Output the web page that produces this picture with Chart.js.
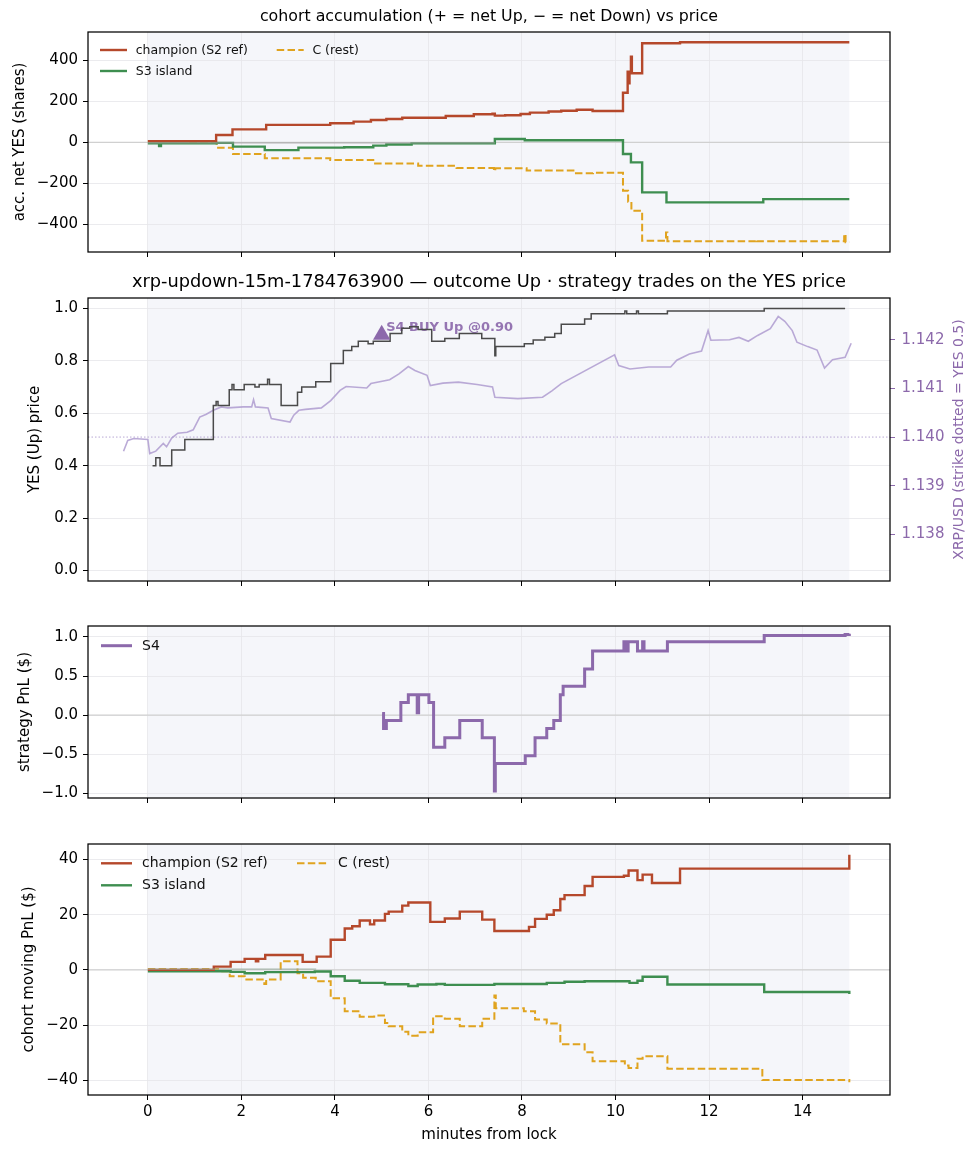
<!DOCTYPE html>
<html>
<head>
<meta charset="utf-8">
<title>xrp-updown cohort chart</title>
<script src="https://cdn.jsdelivr.net/npm/chart.js@4.4.1/dist/chart.umd.min.js"></script>
<style>
  html, body { margin: 0; padding: 0; background: #fff; }
  #wrap { position: relative; width: 978px; height: 1156px; }
  #wrap canvas { position: absolute; left: 0; top: 0; }
</style>
</head>
<body>
<div id="wrap">
  <canvas id="acc" width="978" height="1156"></canvas>
  <canvas id="price" width="978" height="1156"></canvas>
  <canvas id="s4" width="978" height="1156"></canvas>
  <canvas id="cohort" width="978" height="1156"></canvas>
</div>
<script>
// ---- data ----
const lockSpan = [0, 15];
const xTicks = [0, 2, 4, 6, 8, 10, 12, 14];

// panel 1: accumulated net YES shares
const accTicks = [-400, -200, 0, 200, 400];
const champAccT = [0, 1.46, 1.81, 2.53, 3.9, 4.4, 4.77, 5.1, 5.44, 6.37, 6.97, 7.37, 7.42, 7.64, 7.97, 8.17, 8.57, 8.84, 9.17, 9.51, 10.16, 10.26, 10.28, 10.30, 10.33, 10.35, 10.57, 11.38, 15.0];
const champAccV = [6, 36, 63, 85, 93, 101, 109, 114, 120, 128, 137, 140, 130, 132, 138, 145, 150, 154, 159, 153, 242, 344, 288, 344, 418, 337, 483, 488, 488];
const s3AccT = [0, 0.24, 0.28, 1.47, 1.82, 2.5, 3.22, 4.2, 4.82, 5.1, 5.64, 7.42, 8.06, 10.16, 10.33, 10.57, 11.09, 13.16, 15.0];
const s3AccV = [-5, -18, -5, -3, -21, -38, -26, -24, -16, -11, -5, 16, 10, -57, -98, -244, -293, -277, -277];
const cAccT = [0, 0.83, 1.47, 1.82, 2.5, 3.9, 4.82, 5.78, 6.6, 7.4, 7.43, 8.1, 9.1, 9.52, 10.16, 10.27, 10.34, 10.57, 11.08, 11.11, 13.0, 13.03, 14.89, 14.92, 15.0];
const cAccV = [5, -3, -26, -57, -78, -86, -103, -114, -125, -140, -127, -138, -151, -148, -236, -290, -334, -480, -440, -483, -476, -483, -448, -487, -487];
const otherAccT = [0, 7.42];
const otherAccV = [-3, -3];

// panel 2: YES price and XRP/USD
const yesTicks = [0, 0.2, 0.4, 0.6, 0.8, 1.0];
const xrpTicks = [1.138, 1.139, 1.140, 1.141, 1.142];
const strike = 1.140;
const priceT = [0.10, 0.17, 0.26, 0.51, 0.79, 1.40, 1.46, 1.50, 1.74, 1.80, 1.84, 2.06, 2.29, 2.38, 2.56, 2.60, 2.85, 3.20, 3.29, 3.59, 3.91, 4.18, 4.36, 4.50, 4.71, 4.82, 5.18, 5.43, 5.60, 5.78, 6.07, 6.35, 6.66, 7.14, 7.42, 7.44, 8.05, 8.24, 8.49, 8.70, 8.84, 9.34, 9.48, 10.17, 10.20, 10.24, 10.45, 10.49, 11.11, 13.18, 14.91];
const priceV = [0.40, 0.43, 0.40, 0.46, 0.50, 0.63, 0.645, 0.63, 0.69, 0.71, 0.69, 0.71, 0.70, 0.71, 0.73, 0.71, 0.63, 0.68, 0.70, 0.72, 0.79, 0.84, 0.855, 0.875, 0.865, 0.875, 0.905, 0.925, 0.93, 0.92, 0.875, 0.885, 0.905, 0.885, 0.82, 0.855, 0.865, 0.88, 0.89, 0.905, 0.94, 0.96, 0.98, 0.98, 0.99, 0.98, 0.99, 0.98, 0.99, 1.0, 1.0];
const xrpT = [-0.52, -0.43, -0.3, 0.0, 0.04, 0.17, 0.33, 0.40, 0.51, 0.64, 0.84, 0.97, 1.11, 1.25, 1.40, 1.57, 1.71, 2.04, 2.22, 2.26, 2.30, 2.57, 2.64, 3.04, 3.12, 3.23, 3.37, 3.71, 3.91, 4.11, 4.24, 4.68, 4.77, 5.17, 5.37, 5.57, 5.71, 5.97, 6.04, 6.31, 6.64, 7.04, 7.37, 7.42, 7.91, 8.44, 8.64, 8.84, 9.98, 10.07, 10.31, 10.71, 11.18, 11.31, 11.58, 11.84, 11.98, 12.04, 12.44, 12.64, 12.84, 13.04, 13.31, 13.48, 13.62, 13.78, 13.88, 14.11, 14.31, 14.47, 14.64, 14.91, 15.04];
const xrpV = [1.13971, 1.13993, 1.13997, 1.13995, 1.13966, 1.13971, 1.13987, 1.13980, 1.13998, 1.14008, 1.14010, 1.14015, 1.14041, 1.14047, 1.14055, 1.14062, 1.14060, 1.14062, 1.14062, 1.14077, 1.14062, 1.14060, 1.14038, 1.14031, 1.14045, 1.14055, 1.14057, 1.14060, 1.14075, 1.14096, 1.14104, 1.14101, 1.14110, 1.14118, 1.14130, 1.14145, 1.14137, 1.14127, 1.14106, 1.14111, 1.14113, 1.14108, 1.14103, 1.14082, 1.14079, 1.14082, 1.14095, 1.14110, 1.14169, 1.14147, 1.14140, 1.14144, 1.14144, 1.14158, 1.14171, 1.14177, 1.14219, 1.14199, 1.14200, 1.14205, 1.14197, 1.14209, 1.14223, 1.14248, 1.14238, 1.14219, 1.14195, 1.14186, 1.14179, 1.14142, 1.14159, 1.14164, 1.14193];
const buyT = [5.0];
const buyV = [0.90];
const buyNote = 'S4 BUY Up @0.90';

// panel 3: strategy PnL
const pnlTicks = [-1.0, -0.5, 0, 0.5, 1.0];
const s4T = [5.01, 5.04, 5.10, 5.41, 5.57, 5.76, 5.79, 6.01, 6.11, 6.35, 6.67, 7.15, 7.41, 7.43, 8.07, 8.28, 8.53, 8.68, 8.82, 8.88, 9.34, 9.51, 10.18, 10.21, 10.27, 10.47, 10.58, 10.61, 11.11, 13.18, 14.91, 15.0];
const s4V = [0.02, -0.17, -0.07, 0.16, 0.26, 0.03, 0.26, 0.16, -0.41, -0.29, -0.07, -0.29, -0.97, -0.62, -0.52, -0.29, -0.17, -0.07, 0.26, 0.37, 0.59, 0.82, 0.94, 0.82, 0.94, 0.82, 0.94, 0.82, 0.94, 1.02, 1.03, 1.04];

// panel 4: cohort moving PnL
const cohortTicks = [-40, -20, 0, 20, 40];
const champPnlT = [0, 1.41, 1.77, 2.07, 2.31, 2.36, 2.51, 3.31, 3.61, 3.91, 4.21, 4.37, 4.53, 4.75, 4.84, 5.07, 5.15, 5.44, 5.57, 6.04, 6.35, 6.67, 7.15, 7.41, 8.15, 8.28, 8.53, 8.68, 8.82, 8.91, 9.34, 9.51, 10.18, 10.28, 10.47, 10.58, 10.78, 11.38, 15.0];
const champPnlV = [0, 1.2, 2.9, 4.0, 3.1, 4.0, 5.4, 2.9, 4.8, 10.9, 15.0, 15.8, 17.9, 16.5, 17.9, 20.3, 21.1, 23.3, 24.4, 17.4, 18.6, 21.1, 18.2, 14.1, 15.6, 18.5, 20.0, 21.6, 25.7, 27.1, 30.4, 33.7, 34.1, 36.0, 32.5, 34.5, 31.5, 36.7, 41.7];
const s3PnlT = [0, 1.77, 2.07, 2.51, 3.57, 3.91, 4.21, 4.53, 5.07, 5.57, 5.77, 6.17, 6.35, 7.41, 8.53, 8.91, 9.34, 10.3, 10.47, 10.58, 11.11, 13.18, 14.98, 15.0];
const s3PnlV = [-0.5, -0.7, -1.2, -0.8, -0.6, -2.3, -3.9, -4.7, -5.2, -5.8, -5.3, -5.1, -5.4, -5.1, -4.7, -4.3, -4.1, -4.7, -3.9, -2.5, -5.3, -8.0, -8.0, -8.7];
const cPnlT = [0, 1.5, 1.75, 2.07, 2.49, 2.53, 2.84, 3.2, 3.32, 3.59, 3.91, 4.21, 4.53, 4.84, 5.07, 5.15, 5.44, 5.57, 5.77, 6.1, 6.35, 6.67, 7.15, 7.41, 7.44, 8.04, 8.28, 8.53, 8.82, 9.34, 9.51, 10.2, 10.28, 10.47, 10.58, 11.11, 13.14, 14.98, 15.0];
const cPnlV = [0.3, -0.5, -2.3, -3.5, -5.1, -3.5, 3.1, -1.2, -2.8, -4.1, -10.3, -15.0, -17.0, -16.5, -19.2, -20.4, -22.4, -23.8, -22.6, -16.8, -17.7, -20.4, -17.7, -9.3, -13.9, -15.0, -18.0, -19.4, -26.9, -29.8, -33.1, -34.6, -35.5, -32.2, -31.3, -35.8, -39.9, -39.9, -40.7];
const otherPnlT = [0, 3.6];
const otherPnlV = [0.3, 0.3];

// ---- styling / layout ----
Chart.defaults.font.family = '"DejaVu Sans", sans-serif';
Chart.defaults.color = '#000';
Chart.defaults.animation = false;

const H = 1156;
const X_MIN = -1.28, X_MAX = 15.87;
const GRID = '#e6e6ea';
const CHAMP = '#b5482b', S3 = '#3e8e50', CREST = '#e0a31e', PURPLE = '#8c69ab';
const minus = s => s.replace('-', '\u2212');
const pts = (t, v) => t.map((x, i) => ({ x, y: v[i] }));

const decor = {
  id: 'decor',
  beforeDraw(chart) {
    const { ctx, chartArea: a, scales: { x } } = chart;
    const x0 = x.getPixelForValue(lockSpan[0]), x1 = x.getPixelForValue(lockSpan[1]);
    ctx.save();
    ctx.fillStyle = '#f5f6fa';
    ctx.fillRect(x0, a.top, x1 - x0, a.bottom - a.top);
    ctx.restore();
  },
  beforeDatasetsDraw(chart, args, o) {
    const { ctx, chartArea: a } = chart;
    ctx.save();
    if (o.zero) {
      const y = chart.scales.y.getPixelForValue(0);
      ctx.strokeStyle = '#d0d0d0'; ctx.lineWidth = 1.2;
      ctx.beginPath(); ctx.moveTo(a.left, y); ctx.lineTo(a.right, y); ctx.stroke();
    }
    if (o.strike) {
      const y = chart.scales.y1.getPixelForValue(strike);
      ctx.strokeStyle = '#b9a8d4'; ctx.lineWidth = 1; ctx.setLineDash([1.5, 2]);
      ctx.beginPath(); ctx.moveTo(a.left, y); ctx.lineTo(a.right, y); ctx.stroke();
      ctx.setLineDash([]);
    }
    if (o.note) {
      const px = chart.scales.x.getPixelForValue(buyT[0]);
      const py = chart.scales.y.getPixelForValue(buyV[0]);
      ctx.font = 'bold 13px "DejaVu Sans", sans-serif';
      ctx.fillStyle = 'rgba(140,105,171,0.92)';
      ctx.textBaseline = 'alphabetic';
      ctx.fillText(buyNote, px + 4.5, py - 4);
    }
    ctx.restore();
  },
  afterDatasetsDraw(chart, args, o) {
    const { ctx, chartArea: a } = chart;
    ctx.save();
    ctx.strokeStyle = '#000'; ctx.lineWidth = 1.25;
    ctx.strokeRect(a.left, a.top, a.right - a.left, a.bottom - a.top);
    if (o.title) {
      ctx.font = o.titleSize + 'px "DejaVu Sans", sans-serif';
      ctx.fillStyle = '#000'; ctx.textAlign = 'center'; ctx.textBaseline = 'middle';
      ctx.fillText(o.title, (a.left + a.right) / 2, a.top - o.titleDy);
    }
    if (o.rightLabel) {
      ctx.save();
      ctx.translate(959, (a.top + a.bottom) / 2);
      ctx.rotate(-Math.PI / 2);
      ctx.font = '14px "DejaVu Sans", sans-serif';
      ctx.fillStyle = PURPLE; ctx.textAlign = 'center'; ctx.textBaseline = 'middle';
      ctx.fillText(o.rightLabel, 0, 0);
      ctx.restore();
    }
    const lg = o.legend;
    if (lg) {
      ctx.font = lg.size + 'px "DejaVu Sans", sans-serif';
      ctx.textAlign = 'left'; ctx.textBaseline = 'middle';
      const items = chart.data.datasets.filter(d => d.label && d.inLegend !== false);
      items.forEach((ds, i) => {
        const col = Math.floor(i / lg.rows), row = i % lg.rows;
        const x = a.left + lg.x + col * lg.colW;
        const y = a.top + lg.y + row * lg.rowH;
        ctx.strokeStyle = ds.borderColor; ctx.lineWidth = ds.borderWidth;
        ctx.setLineDash(ds.borderDash || []);
        ctx.beginPath(); ctx.moveTo(x, y); ctx.lineTo(x + lg.handle, y); ctx.stroke();
        ctx.setLineDash([]);
        ctx.fillStyle = '#111';
        ctx.fillText(ds.label, x + lg.handle + lg.gap, y + 0.5);
      });
    }
    ctx.restore();
  }
};

function xScale(showLabels) {
  return {
    type: 'linear', min: X_MIN, max: X_MAX,
    afterBuildTicks: s => { s.ticks = xTicks.map(v => ({ value: v })); },
    afterFit: s => { s.height = showLabels ? 61 : 8; },
    grid: { color: GRID, lineWidth: 0.8, tickColor: '#000', tickLength: 5, tickWidth: 1 },
    border: { display: false },
    ticks: { padding: 3, font: { size: 15 }, maxRotation: 0, callback: v => showLabels ? minus(String(v)) : '' },
    title: showLabels
      ? { display: true, text: 'minutes from lock', font: { size: 15 }, padding: { top: 0, bottom: 12 } }
      : { display: false }
  };
}

function yScale(min, max, ticks, fmt, label, pad) {
  return {
    type: 'linear', position: 'left', min, max,
    afterBuildTicks: s => { s.ticks = ticks.map(v => ({ value: v })); },
    afterFit: s => { s.width = 88; },
    grid: { color: GRID, lineWidth: 0.8, tickColor: '#000', tickLength: 5, tickWidth: 1 },
    border: { display: false },
    ticks: { padding: 5, font: { size: 15 }, callback: fmt },
    title: { display: true, text: label, font: { size: 15 }, padding: { top: pad, bottom: 0 } }
  };
}

function stepLine(label, t, v, color, width, extra) {
  return Object.assign({
    label, data: pts(t, v), borderColor: color, borderWidth: width,
    stepped: true, pointRadius: 0, fill: false, yAxisID: 'y'
  }, extra || {});
}

function layout(top, bottom, xH, right) {
  return { padding: { left: 0, right, top, bottom: H - bottom - xH } };
}

const common = {
  responsive: false,
  devicePixelRatio: 1,
  events: [],
  parsing: true
};

// panel 1
new Chart(document.getElementById('acc'), {
  type: 'line',
  data: {
    datasets: [
      stepLine('', otherAccT, otherAccV, '#9e9e9e', 0.9, { inLegend: false }),
      stepLine('champion (S2 ref)', champAccT, champAccV, CHAMP, 2.4),
      stepLine('S3 island', s3AccT, s3AccV, S3, 2.4),
      stepLine('C (rest)', cAccT, cAccV, CREST, 2.0, { borderDash: [7.5, 3.3] })
    ]
  },
  options: Object.assign({}, common, {
    layout: layout(32, 252, 8, 88),
    scales: {
      x: xScale(false),
      y: yScale(-535, 538, accTicks, v => minus(String(v)), 'acc. net YES (shares)', 11)
    },
    plugins: {
      legend: { display: false }, tooltip: { enabled: false },
      decor: {
        zero: true, title: 'cohort accumulation (+ = net Up, \u2212 = net Down) vs price', titleSize: 15.8, titleDy: 15,
        legend: { x: 12, y: 18, rows: 2, colW: 176.7, rowH: 21, handle: 27, gap: 8.7, size: 12.5 }
      }
    }
  }),
  plugins: [decor]
});

// panel 2
new Chart(document.getElementById('price'), {
  type: 'line',
  data: {
    datasets: [
      { type: 'scatter', label: 'S4 BUY', inLegend: false, data: pts(buyT, buyV), yAxisID: 'y',
        pointStyle: 'triangle', pointRadius: 10, backgroundColor: PURPLE, borderColor: PURPLE, borderWidth: 0 },
      stepLine('YES price', priceT, priceV, '#4a4a4a', 1.5),
      { label: 'XRP/USD', data: pts(xrpT, xrpV), yAxisID: 'y1', borderColor: 'rgba(170,150,205,0.8)',
        borderWidth: 1.6, pointRadius: 0, tension: 0, fill: false }
    ]
  },
  options: Object.assign({}, common, {
    layout: layout(298, 581, 8, 0),
    scales: {
      x: xScale(false),
      y: yScale(-0.04, 1.04, yesTicks, v => v.toFixed(1), 'YES (Up) price', 26.5),
      y1: {
        type: 'linear', position: 'right', min: 1.13704, max: 1.14286,
        afterBuildTicks: s => { s.ticks = xrpTicks.map(v => ({ value: v })); },
        afterFit: s => { s.width = 88; },
        grid: { drawOnChartArea: false, tickColor: PURPLE, tickLength: 5, tickWidth: 1 },
        border: { display: false },
        ticks: { padding: 6.5, color: PURPLE, font: { size: 15 }, callback: v => v.toFixed(3) },
        title: { display: false }
      }
    },
    plugins: {
      legend: { display: false }, tooltip: { enabled: false },
      decor: {
        strike: true, note: true,
        title: 'xrp-updown-15m-1784763900 \u2014 outcome Up \u00b7 strategy trades on the YES price', titleSize: 17.8, titleDy: 15.5,
        rightLabel: 'XRP/USD (strike dotted = YES 0.5)'
      }
    }
  }),
  plugins: [decor]
});

// panel 3
new Chart(document.getElementById('s4'), {
  type: 'line',
  data: {
    datasets: [
      stepLine('S4', s4T, s4V, PURPLE, 3)
    ]
  },
  options: Object.assign({}, common, {
    layout: layout(626, 798, 8, 88),
    scales: {
      x: xScale(false),
      y: yScale(-1.06, 1.14, pnlTicks, v => minus(v.toFixed(1)), 'strategy PnL ($)', 16)
    },
    plugins: {
      legend: { display: false }, tooltip: { enabled: false },
      decor: {
        zero: true,
        legend: { x: 13, y: 19.7, rows: 1, colW: 196, rowH: 22, handle: 31, gap: 10, size: 14 }
      }
    }
  }),
  plugins: [decor]
});

// panel 4
new Chart(document.getElementById('cohort'), {
  type: 'line',
  data: {
    datasets: [
      stepLine('', otherPnlT, otherPnlV, '#9aab9e', 1.0, { inLegend: false }),
      stepLine('champion (S2 ref)', champPnlT, champPnlV, CHAMP, 2.4),
      stepLine('S3 island', s3PnlT, s3PnlV, S3, 2.4),
      stepLine('C (rest)', cPnlT, cPnlV, CREST, 2.0, { borderDash: [7.5, 3.3] })
    ]
  },
  options: Object.assign({}, common, {
    layout: layout(844, 1095, 61, 88),
    scales: {
      x: xScale(true),
      y: yScale(-45.3, 45.6, cohortTicks, v => minus(String(v)), 'cohort moving PnL ($)', 20.5)
    },
    plugins: {
      legend: { display: false }, tooltip: { enabled: false },
      decor: {
        zero: true,
        legend: { x: 13, y: 19.3, rows: 2, colW: 196, rowH: 22, handle: 31, gap: 10, size: 14 }
      }
    }
  }),
  plugins: [decor]
});
</script>
</body>
</html>
